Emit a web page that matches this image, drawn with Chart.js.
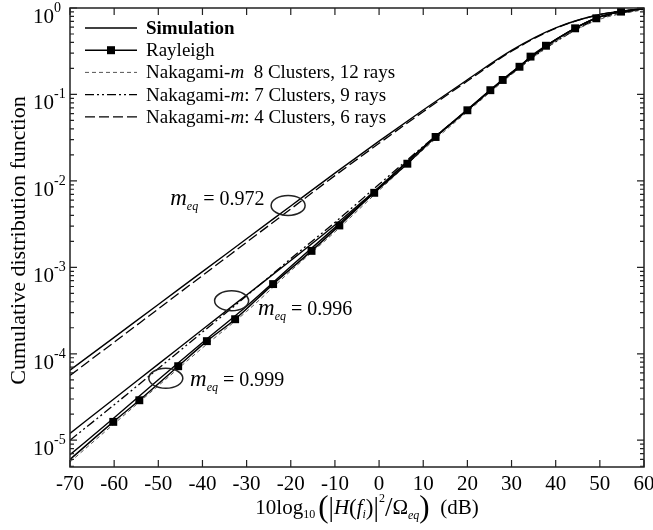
<!DOCTYPE html>
<html>
<head>
<meta charset="utf-8">
<script src="https://cdn.jsdelivr.net/npm/chart.js@4.4.1/dist/chart.umd.min.js"></script>
<style>
  body { margin: 0; background: #fff; }
</style>
</head>
<body>
<canvas id="cdfChart" width="653" height="530"></canvas>
<script>
// Axis ticks
const xTicks = [-70, -60, -50, -40, -30, -20, -10, 0, 10, 20, 30, 40, 50, 60];
const yExponents = [-5, -4, -3, -2, -1, 0];

// Rayleigh reference curve (markers on the inner points)
const rayleighDb = [-70, -60.2, -54.3, -45.5, -39.0, -32.6, -24.0, -15.3, -9.0, -1.1, 6.4, 12.8,
  20.0, 25.2, 28.0, 31.8, 34.3, 37.8, 44.4, 49.2, 54.8, 60];
const rayleighCdf = [6.0e-6, 1.63e-5, 2.9e-5, 7.18e-5, 1.4e-4, 2.51e-4, 6.4e-4, 1.55e-3, 3.05e-3,
  7.28e-3, 1.58e-2, 3.22e-2, 6.56e-2, 0.112, 0.147, 0.209, 0.274, 0.366, 0.582, 0.76, 0.908, 0.977];

// Other curves share the same dB grid
const curveDb = [-70, -60, -50, -40, -30, -20, -10, 0, 10, 20, 30, 40, 50, 60];

// Simulation, three channel settings
const simM999 = [6.8e-6, 1.82e-5, 5.0e-5, 1.35e-4, 3.55e-4, 1.02e-3, 2.88e-3, 8.3e-3, 2.45e-2, 6.6e-2, 0.178, 0.427, 0.794, 0.99];
const simM996 = [1.2e-5, 3.02e-5, 7.59e-5, 1.91e-4, 4.79e-4, 1.2e-3, 3.09e-3, 8.51e-3, 2.45e-2, 6.68e-2, 0.18, 0.431, 0.794, 0.99];
const simM972 = [6.46e-5, 1.55e-4, 3.72e-4, 8.91e-4, 2.14e-3, 5.13e-3, 1.23e-2, 2.88e-2, 6.61e-2, 0.148, 0.324, 0.589, 0.841, 0.991];

// Nakagami-m fits
const nak8Clusters = [5.6e-6, 1.55e-5, 4.27e-5, 1.17e-4, 3.09e-4, 9.1e-4, 2.57e-3, 7.76e-3, 2.29e-2, 6.3e-2, 0.17, 0.41, 0.74, 0.96];
const nak7Clusters = [1.0e-5, 2.57e-5, 6.76e-5, 1.78e-4, 4.68e-4, 1.26e-3, 3.31e-3, 9.12e-3, 2.51e-2, 6.6e-2, 0.174, 0.407, 0.76, 0.977];
const nak4Clusters = [5.62e-5, 1.36e-4, 3.31e-4, 8.04e-4, 1.95e-3, 4.73e-3, 1.15e-2, 2.72e-2, 6.31e-2, 0.143, 0.316, 0.582, 0.841, 0.993];

// m_eq callouts, anchored in data space
const callouts = [
  { m: '0.972', at: [-20.6, 5.2e-3], text: [-47.3, 5.2e-3] },
  { m: '0.996', at: [-33.4, 4.1e-4], text: [-27.4, 2.8e-4] },
  { m: '0.999', at: [-48.3, 5.2e-5], text: [-42.8, 4.2e-5] }
];

const SERIF = '"Liberation Serif", "Times New Roman", serif';
const pts = (xs, ys) => xs.map((x, i) => ({ x: x, y: ys[i] }));

function drawRich(ctx, parts, x, y, align) {
  let total = 0;
  parts.forEach(p => { ctx.font = p.f + ' ' + SERIF; total += ctx.measureText(p.t).width; });
  let cx = align === 'center' ? x - total / 2 : x;
  ctx.textAlign = 'left';
  ctx.textBaseline = 'alphabetic';
  parts.forEach(p => {
    ctx.font = p.f + ' ' + SERIF;
    ctx.fillText(p.t, cx, y + (p.dy || 0));
    cx += ctx.measureText(p.t).width;
  });
}

const decor = {
  id: 'decor',
  afterDraw(chart) {
    const { ctx, chartArea: a, scales: { x, y } } = chart;
    ctx.save();
    ctx.strokeStyle = '#222';
    ctx.fillStyle = '#000';
    ctx.lineWidth = 1.5;
    ctx.strokeRect(a.left, a.top, a.right - a.left, a.bottom - a.top);

    // x ticks, inward on top and bottom
    ctx.lineWidth = 1.2;
    ctx.font = '21px ' + SERIF;
    xTicks.forEach(v => {
      const px = x.getPixelForValue(v);
      ctx.beginPath();
      ctx.moveTo(px, a.bottom); ctx.lineTo(px, a.bottom - 7);
      ctx.moveTo(px, a.top); ctx.lineTo(px, a.top + 7);
      ctx.stroke();
      ctx.textAlign = 'center';
      ctx.textBaseline = 'alphabetic';
      ctx.fillText(String(v), px, a.bottom + 23);
    });

    // y ticks, major + minor, inward on both sides
    for (let e = -6; e <= 0; e++) {
      for (let k = 1; k <= 9; k++) {
        const v = k * Math.pow(10, e);
        if (v < y.min || v > y.max) continue;
        const py = y.getPixelForValue(v);
        const len = k === 1 ? 7 : 4;
        ctx.beginPath();
        ctx.moveTo(a.left, py); ctx.lineTo(a.left + len, py);
        ctx.moveTo(a.right, py); ctx.lineTo(a.right - len, py);
        ctx.stroke();
      }
    }
    yExponents.forEach(e => {
      const py = y.getPixelForValue(Math.pow(10, e));
      drawRich(ctx, [
        { t: '10', f: '21px' },
        { t: e === 0 ? '0' : '-' + Math.abs(e), f: '14px', dy: -11 }
      ], 33, py + 15, 'left');
    });

    // axis titles
    ctx.save();
    ctx.translate(19, (a.top + a.bottom) / 2 + 3);
    ctx.rotate(-Math.PI / 2);
    ctx.font = '22px ' + SERIF;
    ctx.textAlign = 'center';
    ctx.textBaseline = 'middle';
    ctx.fillText('Cumulative distribution function', 0, 0);
    ctx.restore();

    drawRich(ctx, [
      { t: '10log', f: '21px' },
      { t: '10', f: '12px', dy: 4 },
      { t: ' ', f: '12px' },
      { t: '(', f: '31px', dy: 3 },
      { t: '|', f: '27px', dy: 2 },
      { t: 'H', f: 'italic 21px' },
      { t: '(', f: '23px', dy: 1 },
      { t: 'f', f: 'italic 21px' },
      { t: 'i', f: 'italic 12px', dy: 4 },
      { t: ')', f: '23px', dy: 1 },
      { t: '|', f: '27px', dy: 2 },
      { t: '2', f: '12px', dy: -12 },
      { t: '/', f: '27px', dy: 2 },
      { t: '\u03A9', f: '21px' },
      { t: 'eq', f: 'italic 12px', dy: 5 },
      { t: ')', f: '31px', dy: 3 },
      { t: '  (dB)', f: '21px' }
    ], 367, 514, 'center');

    // m_eq callouts
    ctx.lineWidth = 1.5;
    callouts.forEach(c => {
      const ex = x.getPixelForValue(c.at[0]);
      const ey = y.getPixelForValue(c.at[1]);
      ctx.beginPath();
      ctx.ellipse(ex, ey, 17, 10, 0, 0, Math.PI * 2);
      ctx.stroke();
      drawRich(ctx, [
        { t: 'm', f: 'italic 23px' },
        { t: 'eq', f: 'italic 12px', dy: 5 },
        { t: ' = ' + c.m, f: '20px' }
      ], x.getPixelForValue(c.text[0]), y.getPixelForValue(c.text[1]), 'left');
    });

    // legend inside the plot
    const rows = [
      { ds: 1, parts: [{ t: 'Simulation', f: 'bold 19px' }] },
      { ds: 0, parts: [{ t: 'Rayleigh', f: '19px' }] },
      { ds: 4, parts: [{ t: 'Nakagami-', f: '19px' }, { t: 'm', f: 'italic 19px' }, { t: '  8 Clusters, 12 rays', f: '19px' }] },
      { ds: 5, parts: [{ t: 'Nakagami-', f: '19px' }, { t: 'm', f: 'italic 19px' }, { t: ': 7 Clusters, 9 rays', f: '19px' }] },
      { ds: 6, parts: [{ t: 'Nakagami-', f: '19px' }, { t: 'm', f: 'italic 19px' }, { t: ': 4 Clusters, 6 rays', f: '19px' }] }
    ];
    rows.forEach((r, i) => {
      const ds = chart.data.datasets[r.ds];
      const ly = 28 + i * 22.2;
      ctx.save();
      ctx.strokeStyle = ds.borderColor;
      ctx.lineWidth = ds.borderWidth;
      ctx.setLineDash(ds.borderDash || []);
      ctx.beginPath();
      ctx.moveTo(a.left + 15, ly); ctx.lineTo(a.left + 67, ly);
      ctx.stroke();
      ctx.restore();
      if (r.ds === 0) ctx.fillRect(a.left + 37, ly - 4, 8, 8);
      drawRich(ctx, r.parts, a.left + 76, ly + 6, 'left');
    });
    ctx.restore();
  }
};

const lastRay = rayleighDb.length - 1;
new Chart(document.getElementById('cdfChart'), {
  type: 'line',
  data: {
    datasets: [
      {
        label: 'Rayleigh', data: pts(rayleighDb, rayleighCdf),
        borderColor: '#000', backgroundColor: '#000', borderWidth: 1.5,
        pointStyle: 'rect', pointBackgroundColor: '#000', pointBorderWidth: 0,
        pointRadius: c => (c.dataIndex === 0 || c.dataIndex === lastRay) ? 0 : 5.6
      },
      { label: 'Simulation', data: pts(curveDb, simM999), borderColor: '#000', borderWidth: 1.4 },
      { label: 'Simulation m=0.996', data: pts(curveDb, simM996), borderColor: '#000', borderWidth: 1.4 },
      { label: 'Simulation m=0.972', data: pts(curveDb, simM972), borderColor: '#000', borderWidth: 1.4 },
      { label: 'Nakagami-m 8 Clusters, 12 rays', data: pts(curveDb, nak8Clusters), borderColor: '#555', borderWidth: 1, borderDash: [4, 3] },
      { label: 'Nakagami-m: 7 Clusters, 9 rays', data: pts(curveDb, nak7Clusters), borderColor: '#000', borderWidth: 1.3, borderDash: [9, 3, 2, 3, 2, 3] },
      { label: 'Nakagami-m: 4 Clusters, 6 rays', data: pts(curveDb, nak4Clusters), borderColor: '#000', borderWidth: 1.3, borderDash: [10, 4] }
    ]
  },
  options: {
    responsive: false,
    animation: false,
    layout: { padding: { left: 70, top: 8, right: 9, bottom: 63 } },
    elements: {
      point: { radius: 0 },
      line: { cubicInterpolationMode: 'monotone', fill: false }
    },
    scales: {
      x: { type: 'linear', min: -70, max: 60, display: false },
      y: { type: 'logarithmic', min: 4.9e-6, max: 1, display: false }
    },
    plugins: {
      legend: { display: false },
      tooltip: { enabled: false }
    }
  },
  plugins: [decor]
});
</script>
</body>
</html>
